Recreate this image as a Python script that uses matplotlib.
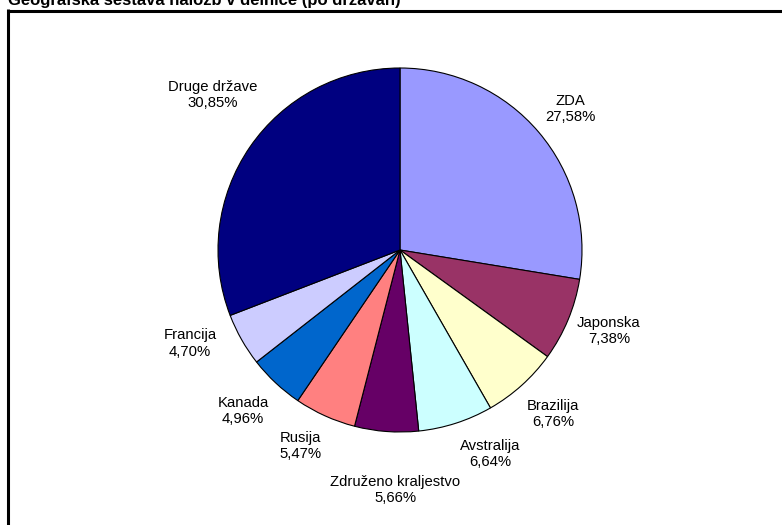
import matplotlib
matplotlib.use("Agg")
import matplotlib.pyplot as plt
from matplotlib.lines import Line2D
import numpy as np

categories = ["ZDA", "Japonska", "Brazilija", "Avstralija", "Združeno kraljestvo",
              "Rusija", "Kanada", "Francija", "Druge države"]
values = [27.58, 7.38, 6.76, 6.64, 5.66, 5.47, 4.96, 4.70, 30.85]
colors = ["#9999FF", "#993366", "#FFFFCC", "#CCFFFF", "#660066",
          "#FF8080", "#0066CC", "#CCCCFF", "#000080"]
title = "Geografska sestava naložb v delnice (po državah)"

# label placement (radial distance in radii, angular nudge in degrees)
label_dist = [1.214, 1.231, 1.232, 1.225, 1.319, 1.209, 1.236, 1.262, 1.335]
label_dang = [-0.7, 1.4, 1.0, 5.9, 3.1, -2.7, -1.2, -5.6, -5.2]

plt.rcParams["font.family"] = ["Liberation Sans", "DejaVu Sans"]

W, H = 782, 525
fig = plt.figure(figsize=(W / 100, H / 100), dpi=100)
fig.patch.set_facecolor("white")

# axes centred at pie centre (400, 250) px, radius 182 px
a = 1.4
R = 182
side = 2 * R * a
cx, cy = 400, H - 250
ax = fig.add_axes([(cx - side / 2) / W, (cy - side / 2) / H, side / W, side / H])

wedges, _ = ax.pie(values, colors=colors, startangle=90, counterclock=False,
                   wedgeprops=dict(edgecolor="black", linewidth=0.8))
ax.set_xlim(-a, a)
ax.set_ylim(-a, a)
ax.set_aspect("equal")
ax.axis("off")

for w, c, v, d, da in zip(wedges, categories, values, label_dist, label_dang):
    mid = np.deg2rad((w.theta1 + w.theta2) / 2 + da)
    txt = f"{c}\n{v:.2f}".replace(".", ",") + "%"
    ax.text(d * np.cos(mid), d * np.sin(mid), txt, ha="center", va="center",
            fontsize=10.7, linespacing=1.25, clip_on=False)

# frame (cut off at the right and bottom edges)
fig.add_artist(Line2D([6.5 / W, 1.0], [1 - 10.5 / H, 1 - 10.5 / H], color="black",
                      linewidth=2.2, transform=fig.transFigure, solid_capstyle="butt"))
fig.add_artist(Line2D([7.5 / W, 7.5 / W], [0, 1 - 9 / H], color="black",
                      linewidth=2.2, transform=fig.transFigure, solid_capstyle="butt"))

# title, partly cut off at the top
fig.text(8 / W, 1 - 4.5 / H, title, fontsize=12, fontweight="bold",
         ha="left", va="baseline")

fig.savefig("out.png", dpi=100)
